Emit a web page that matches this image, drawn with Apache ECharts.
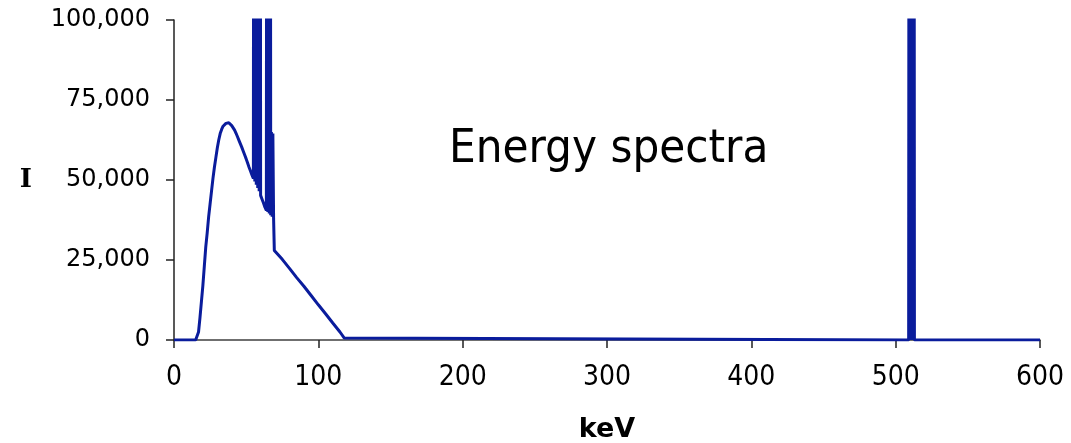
<!DOCTYPE html>
<html>
<head>
<meta charset="utf-8">
<script src="https://cdn.jsdelivr.net/npm/echarts@6/dist/echarts.min.js"></script>
<style>
html,body{margin:0;padding:0;background:#fff;}
#chart{width:1071px;height:443px;}
</style>
</head>
<body>
<div id="chart"></div>
<script>
// Energy (keV) and intensity readings
const kev = [0, 13, 15, 16, 17, 18, 19, 20, 21, 22, 23, 24, 25, 26, 27, 28, 29, 30, 31, 32, 33, 34, 35, 36, 37, 38, 39, 40,
  41, 42, 43, 44, 45, 46, 47, 48, 49, 50, 51, 52, 53, 54, 55,
  55.5, 56, 56.5, 57, 57.5, 58, 58.5, 59, 59.5, 60,
  61, 62, 63, 64,
  64.5, 65, 65.5, 66, 66.5, 67, 67.5, 68, 68.5, 69, 69.5,
  70, 75, 80, 85, 90, 95, 100, 105, 110, 115, 118, 119,
  509, 509.5, 510, 510.5, 511, 511.5, 512, 512.5, 513, 600];
const intensity = [0, 0, 0, 500, 2500, 7000, 12000, 17000, 23000, 29000, 33500, 38500, 42500, 46500, 50500, 54000, 57000, 60000, 62500, 64500, 65800, 66800, 67300, 67700, 68000, 67900, 67500, 67000,
  66400, 65600, 64600, 63500, 62400, 61300, 60200, 59000, 57800, 56600, 55300, 54000, 52800, 51600, 50500,
  400000, 49500, 400000, 48500, 400000, 47500, 400000, 46500, 400000, 45200,
  44000, 42800, 41500, 40500,
  400000, 40000, 400000, 39500, 400000, 39000, 65000, 38500, 64500, 38000, 28000,
  27800, 25200, 22400, 19500, 16800, 13900, 11000, 8200, 5300, 2500, 600, 0,
  0, 400000, 0, 400000, 0, 400000, 0, 400000, 0, 0];
const xTicks = [0, 100, 200, 300, 400, 500, 600];
const yTicks = [0, 25000, 50000, 75000, 100000];
const titleText = 'Energy spectra';
const xName = 'keV';
const yName = 'I';

const points = kev.map((k, i) => [k, intensity[i]]);
const chart = echarts.init(document.getElementById('chart'), null, {renderer: 'canvas'});
const fmt = v => v.toString().replace(/\B(?=(\d{3})+(?!\d))/g, ',');
chart.setOption({
  animation: false,
  backgroundColor: '#ffffff',
  grid: {left: 174, right: 31, top: 20, bottom: 103, containLabel: false, outerBoundsMode: 'none'},
  graphic: [{
    type: 'text', left: 449, top: 126,
    style: {text: titleText, fill: '#000', font: '47px "DejaVu Sans Condensed", "Liberation Sans Narrow", "DejaVu Sans", sans-serif'}
  }],
  xAxis: {
    type: 'value', min: xTicks[0], max: xTicks[xTicks.length - 1], interval: 100,
    name: xName, nameLocation: 'middle', nameGap: 76,
    nameTextStyle: {fontFamily: 'DejaVu Sans', fontWeight: 'bold', fontSize: 27, color: '#000'},
    axisLine: {lineStyle: {color: '#404040', width: 1.5}},
    axisTick: {show: true, inside: false, length: 8, lineStyle: {color: '#222', width: 1.5}},
    axisLabel: {margin: 24, color: '#000', fontSize: 28, fontFamily: '"DejaVu Sans Condensed", "Liberation Sans Narrow", "DejaVu Sans", sans-serif'},
    splitLine: {show: false}
  },
  yAxis: {
    type: 'value', min: yTicks[0], max: yTicks[yTicks.length - 1], interval: 25000,
    name: yName, nameLocation: 'middle', nameGap: 142, nameRotate: 0,
    nameTextStyle: {fontFamily: 'DejaVu Serif', fontWeight: 'bold', fontSize: 26, color: '#000'},
    axisLine: {show: true, lineStyle: {color: '#222', width: 1.5}},
    axisTick: {show: true, inside: false, length: 8, lineStyle: {color: '#222', width: 1.5}},
    axisLabel: {margin: 24, color: '#000', fontSize: 24, fontFamily: '"DejaVu Sans", Verdana, sans-serif', formatter: fmt},
    splitLine: {show: false}
  },
  series: [{
    type: 'line', data: points, showSymbol: false, symbol: 'none',
    lineStyle: {color: '#0a1c9c', width: 3}, clip: true, z: 5
  }]
});
</script>
</body>
</html>
